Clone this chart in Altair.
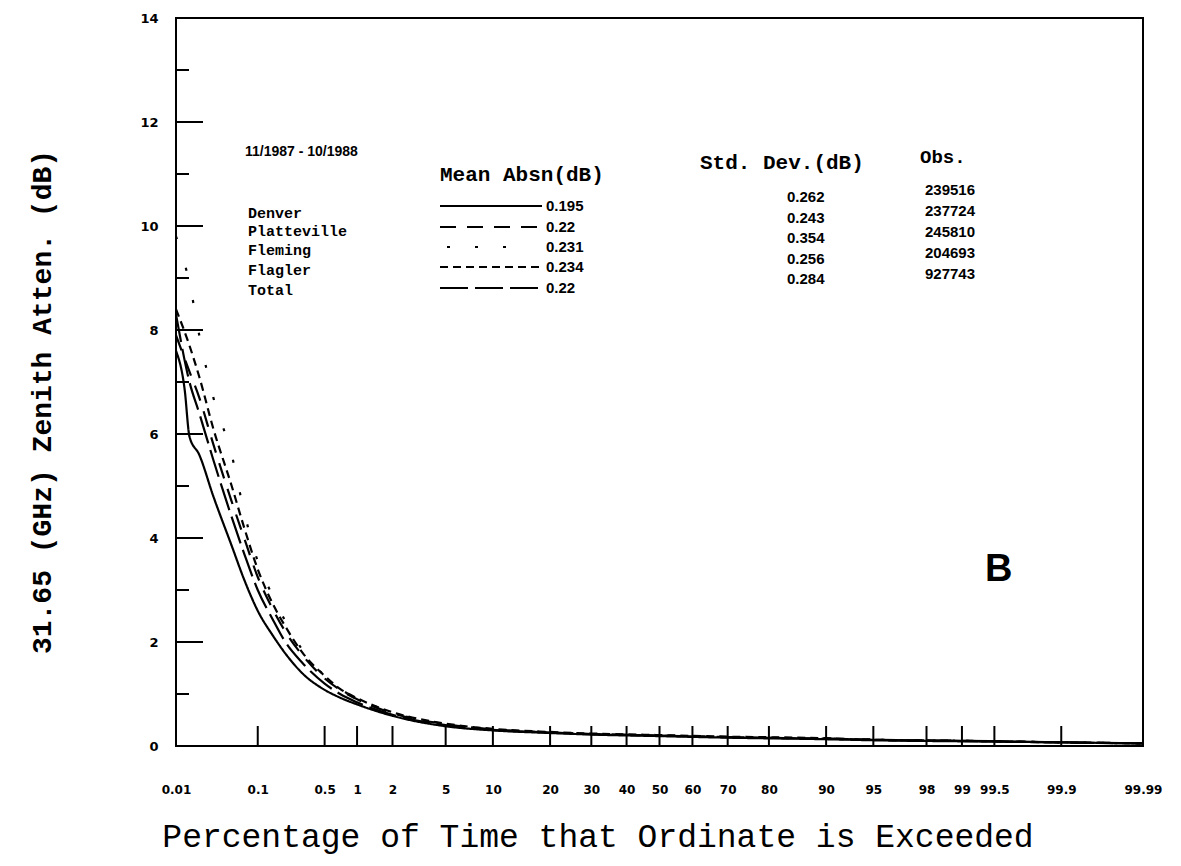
import altair as alt
import pandas as pd
from statistics import NormalDist

# ---------------- data ----------------
series_names = ["Denver", "Platteville", "Fleming", "Flagler", "Total"]

denver_pct = [0.01, 0.013, 0.015, 0.02, 0.03, 0.05, 0.07, 0.1, 0.15, 0.2, 0.3, 0.5, 0.7, 1, 2, 5, 10, 20, 30, 50, 70, 90, 95, 99, 99.9, 99.99]
denver_db = [7.6, 6.85, 5.95, 5.6, 4.8, 3.85, 3.2, 2.6, 2.1, 1.78, 1.4, 1.08, 0.93, 0.8, 0.58, 0.38, 0.3, 0.25, 0.22, 0.19, 0.16, 0.13, 0.11, 0.09, 0.07, 0.05]

common_pct = [0.01, 0.015, 0.02, 0.03, 0.05, 0.07, 0.1, 0.15, 0.2, 0.3, 0.5, 0.7, 1, 2, 5, 10, 20, 30, 50, 70, 90, 95, 99, 99.9, 99.99]
platteville_db = [7.9, 7.2, 6.7, 5.8, 4.7, 4.0, 3.25, 2.6, 2.2, 1.75, 1.3, 1.08, 0.9, 0.63, 0.42, 0.32, 0.26, 0.23, 0.2, 0.17, 0.14, 0.12, 0.1, 0.07, 0.05]
fleming_db = [9.8, 8.9, 7.9, 6.7, 5.6, 4.5, 3.55, 2.85, 2.4, 1.85, 1.35, 1.1, 0.92, 0.64, 0.42, 0.32, 0.26, 0.23, 0.2, 0.17, 0.14, 0.12, 0.1, 0.07, 0.05]
flagler_db = [8.4, 7.7, 7.1, 6.1, 5.0, 4.2, 3.4, 2.7, 2.3, 1.8, 1.35, 1.1, 0.92, 0.65, 0.43, 0.33, 0.27, 0.24, 0.21, 0.18, 0.15, 0.12, 0.1, 0.07, 0.05]
total_db = [8.3, 7.0, 6.4, 5.5, 4.4, 3.7, 3.0, 2.4, 2.0, 1.6, 1.2, 1.0, 0.84, 0.6, 0.4, 0.31, 0.26, 0.23, 0.2, 0.17, 0.14, 0.12, 0.1, 0.07, 0.05]

mean_absn = ["0.195", "0.22", "0.231", "0.234", "0.22"]
std_dev = ["0.262", "0.243", "0.354", "0.256", "0.284"]
obs = ["239516", "237724", "245810", "204693", "927743"]

x_tick_pct = [0.01, 0.1, 0.5, 1, 2, 5, 10, 20, 30, 40, 50, 60, 70, 80, 90, 95, 98, 99, 99.5, 99.9, 99.99]
y_label_vals = [0, 2, 4, 6, 8, 10, 12, 14]
y_major_ticks = [2, 4, 6, 8, 10, 12]
y_minor_ticks = [1, 3, 5, 7, 9, 11, 13]

period_text = "11/1987 - 10/1988"
x_title = "Percentage of Time that Ordinate is Exceeded"
y_title = "31.65 (GHz) Zenith Atten. (dB)"
panel_letter = "B"
# -------------------------------------------------------------

W, H = 967, 728
nd = NormalDist()
z_ticks = [nd.inv_cdf(p / 100) for p in x_tick_pct]
z_min, z_max = z_ticks[0], z_ticks[-1]

rows = []
for p, v in zip(denver_pct, denver_db):
    rows.append({"series": "Denver", "p": p, "db": v})
for name, vals in [("Platteville", platteville_db), ("Fleming", fleming_db),
                   ("Flagler", flagler_db), ("Total", total_db)]:
    for p, v in zip(common_pct, vals):
        rows.append({"series": name, "p": p, "db": v})
curves_df = pd.DataFrame(rows)

dash_map = {
    "Denver": [1, 0],
    "Platteville": [16, 11],
    "Fleming": [3, 30],
    "Flagler": [8, 5],
    "Total": [28, 7],
}
legend_dash = dict(dash_map)
legend_dash["Fleming"] = [3, 25]

SANS = "Liberation Sans, Arial, sans-serif"
MONO = "Liberation Mono, DejaVu Sans Mono, monospace"

xscale = alt.Scale(domain=[z_min, z_max], nice=False, zero=False)
yscale = alt.Scale(domain=[0, 14], nice=False, zero=True)

curves = alt.Chart(curves_df).transform_calculate(
    z="quantileNormal(datum.p / 100)"
).mark_line(color="black", strokeWidth=2.2, interpolate="monotone", clip=True).encode(
    x=alt.X("z:Q", scale=xscale, axis=alt.Axis(
        values=z_ticks,
        labelExpr="round(cumulativeNormal(datum.value) * 10000) / 100 + ''",
        ticks=False, domain=False, grid=False, labelOverlap=False, labelFlush=False,
        labelPadding=38, labelFont="DejaVu Sans", labelFontWeight="bold", labelFontSize=12,
        labelColor="black", title=None,
    )),
    y=alt.Y("db:Q", scale=yscale, axis=alt.Axis(
        values=y_label_vals, ticks=False, domain=False, grid=False,
        labelPadding=18, labelFont="DejaVu Sans", labelFontWeight="bold", labelFontSize=13,
        labelColor="black", title=None,
    )),
    strokeDash=alt.StrokeDash("series:N", scale=alt.Scale(domain=list(dash_map.keys()), range=list(dash_map.values())), legend=None),
    detail="series:N",
)

xt = alt.Chart(pd.DataFrame({"p": x_tick_pct[1:-1]})).transform_calculate(
    z="quantileNormal(datum.p / 100)"
).mark_rule(color="black", strokeWidth=2).encode(
    x=alt.X("z:Q", scale=xscale), y=alt.value(H), y2=alt.value(H - 20)
)
yt_major = alt.Chart(pd.DataFrame({"v": y_major_ticks})).mark_rule(color="black", strokeWidth=2).encode(
    y=alt.Y("v:Q", scale=yscale), x=alt.value(0), x2=alt.value(27)
)
yt_minor = alt.Chart(pd.DataFrame({"v": y_minor_ticks})).mark_rule(color="black", strokeWidth=2).encode(
    y=alt.Y("v:Q", scale=yscale), x=alt.value(0), x2=alt.value(13)
)


def txt(text, x, y, font=SANS, size=15, weight="bold", align="left", baseline="middle", angle=0):
    return alt.Chart(pd.DataFrame({"t": [text]})).mark_text(
        align=align, baseline=baseline, font=font, fontSize=size, fontWeight=weight,
        color="black", angle=angle
    ).encode(x=alt.value(x), y=alt.value(y), text="t:N")


layers = [curves, xt, yt_major, yt_minor]
layers.append(txt(period_text, 69, 134, size=14))
layers.append(txt("Mean Absn(dB)", 264, 157, font=MONO, size=21))
layers.append(txt("Std. Dev.(dB)", 524, 145, font=MONO, size=21))
layers.append(txt("Obs.", 744, 139, font=MONO, size=19))

name_y = [195, 213, 232, 252, 272]
mean_y = [188, 209, 229, 249, 270]
std_y = [179, 200, 220, 241, 261]
obs_y = [172, 193, 214, 235, 256]
for i, name in enumerate(series_names):
    layers.append(txt(name, 72, name_y[i], font=MONO, size=15))
    layers.append(txt(mean_absn[i], 370, mean_y[i], size=15))
    layers.append(txt(std_dev[i], 611, std_y[i], size=15))
    layers.append(txt(obs[i], 749, obs_y[i], size=15))
    x0 = 271 if name == "Fleming" else 264
    x1 = 332 if name == "Fleming" else 366
    layers.append(
        alt.Chart(pd.DataFrame({"s": [name]})).mark_rule(
            color="black", strokeWidth=2.2, strokeDash=legend_dash[name]
        ).encode(x=alt.value(x0), x2=alt.value(x1), y=alt.value(mean_y[i]))
    )

layers.append(txt(panel_letter, 809, 552, size=38))
layers.append(txt(x_title, 422, 829, font=MONO, size=33, weight="normal", align="center", baseline="alphabetic"))
layers.append(txt(y_title, -133, 384, font=MONO, size=28, weight="bold", align="center", angle=270))

chart = alt.layer(*layers).properties(
    width=W, height=H,
    autosize=alt.AutoSizeParams(type="none"),
    padding={"left": 168, "top": 10, "right": 22, "bottom": 112},
    background="white",
).configure_view(stroke="black", strokeWidth=2)

chart.save("out.html", embed_options={"renderer": "svg", "actions": False})
